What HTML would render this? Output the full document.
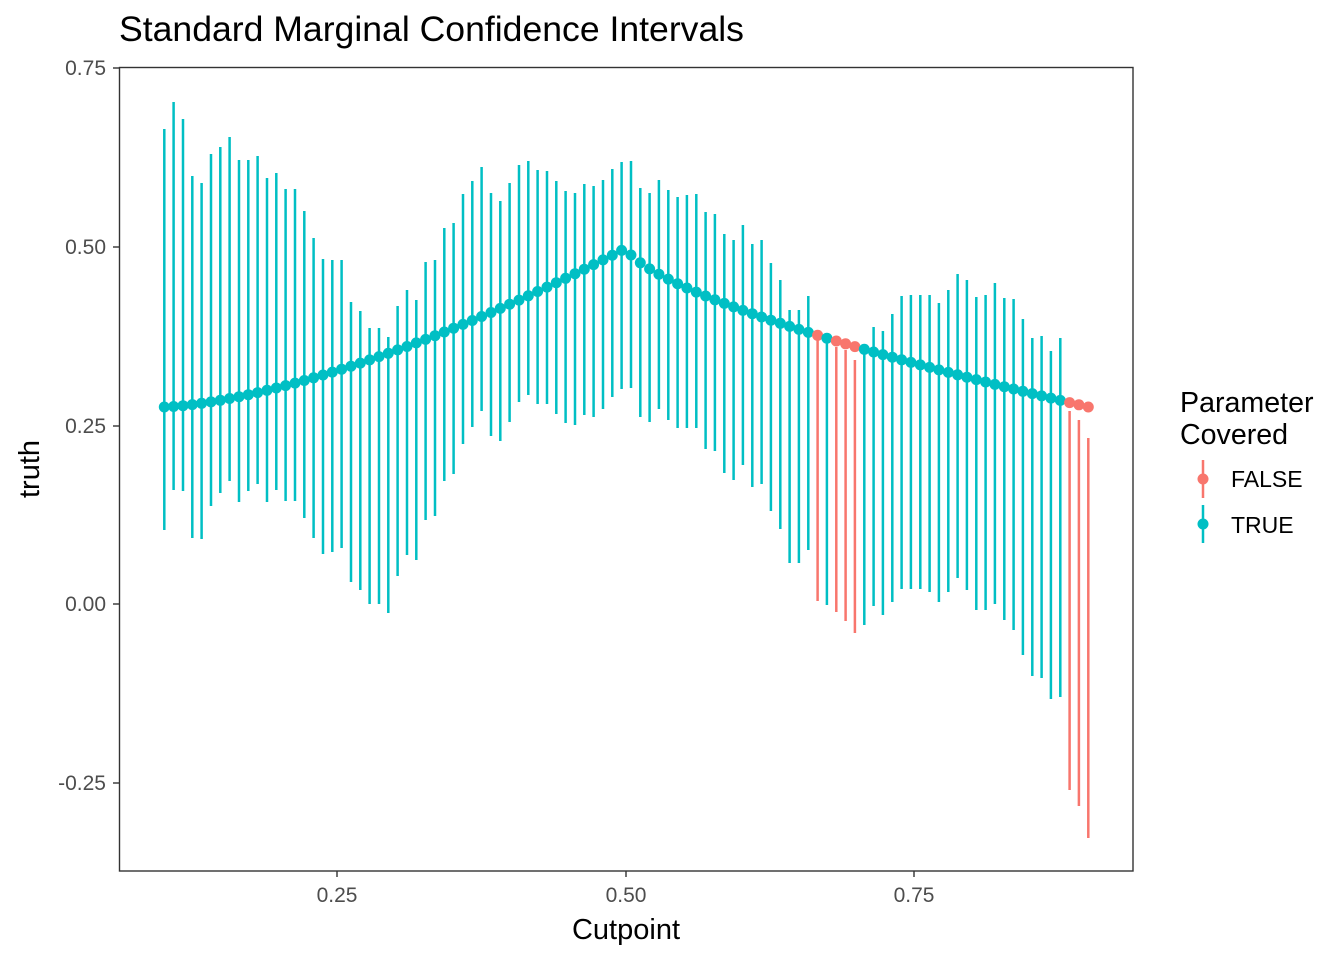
<!DOCTYPE html>
<html><head><meta charset="utf-8"><style>
html,body{margin:0;padding:0;background:#fff;}
svg{display:block;font-family:"Liberation Sans",sans-serif;}
</style></head><body>
<svg id="s" width="1344" height="960" viewBox="0 0 1344 960" xmlns="http://www.w3.org/2000/svg">
<rect width="1344" height="960" fill="#fff"/>
<text x="119" y="41" font-size="35.6" fill="#000">Standard Marginal Confidence Intervals</text>
<g id="data"></g>
<rect x="119.5" y="67.5" width="1013.5" height="803.5" fill="none" stroke="#333" stroke-width="1.4"/>
<g stroke="#333" stroke-width="1.4">
<line x1="113" x2="119" y1="68" y2="68"/><line x1="113" x2="119" y1="247" y2="247"/><line x1="113" x2="119" y1="426" y2="426"/><line x1="113" x2="119" y1="604" y2="604"/><line x1="113" x2="119" y1="783" y2="783"/>
<line x1="337" x2="337" y1="871" y2="877"/><line x1="626" x2="626" y1="871" y2="877"/><line x1="914" x2="914" y1="871" y2="877"/>
</g>
<g font-size="21" fill="#4d4d4d" text-anchor="end">
<text x="106" y="75">0.75</text><text x="106" y="254">0.50</text><text x="106" y="433">0.25</text><text x="106" y="611">0.00</text><text x="106" y="790">-0.25</text>
</g>
<g font-size="21" fill="#4d4d4d" text-anchor="middle">
<text x="337" y="902">0.25</text><text x="626" y="902">0.50</text><text x="914" y="902">0.75</text>
</g>
<text x="626" y="939" font-size="29" text-anchor="middle">Cutpoint</text>
<text transform="translate(39,469) rotate(-90)" font-size="29" text-anchor="middle">truth</text>
<text x="1180" y="412" font-size="28.6">Parameter</text>
<text x="1180" y="444" font-size="28.6">Covered</text>
<line x1="1203" x2="1203" y1="460" y2="498" stroke="#F8766D" stroke-width="2.5"/>
<circle cx="1203" cy="479" r="5.5" fill="#F8766D"/>
<line x1="1203" x2="1203" y1="505" y2="543" stroke="#00BFC4" stroke-width="2.5"/>
<circle cx="1203" cy="524" r="5.5" fill="#00BFC4"/>
<text x="1231" y="487" font-size="23" fill="#000">FALSE</text>
<text x="1231" y="533" font-size="23" fill="#000">TRUE</text>
</svg>
<script>
var tops=[129,102,119,176,183,154,147,137,160,160,156,178,173,189,189,211,238,259,260,260,302,311,328,328,337,306,290,300,262,260,228,223,194,181,
167,193,201,183,165,161,170,171,181,191,193,184,186,180,169,162,161,188,193,180,190,197,195,194,212,214,234,240,225,244,240,263,280,310,310,296,
340,337,347,350,360,349,327,331,314,296,295,295,295,303,290,274,280,297,295,283,298,299,319,338,336,351,338,411,420,438];
var bots=[530,490,491,538,539,506,493,481,502,491,484,502,490,501,501,518,538,554,552,548,582,590,604,604,613,576,555,560,520,516,481,474,444,427,
411,436,441,422,402,395,404,404,414,423,425,415,417,409,397,389,388,417,422,409,420,428,428,428,449,451,473,480,465,487,484,511,529,563,563,550,
601,605,612,621,633,625,606,615,602,589,589,589,592,602,592,578,590,610,610,604,620,630,655,676,678,699,697,790,806,838];
var red={70:1,72:1,73:1,74:1,97:1,98:1,99:1};
var g=document.getElementById('data'),h='',c='';
for(var i=0;i<100;i++){
 var x=164.3+9.333*i, y;
 if(i<49.5){var s=i/49.5; y=407-159*Math.pow(s,1.5);}
 else{var t=(i-49.5)/49.5; y=248+159*Math.pow(t,0.68);}
 var col=red[i]?'#F8766D':'#00BFC4';
 h+='<line x1="'+x.toFixed(1)+'" x2="'+x.toFixed(1)+'" y1="'+tops[i]+'" y2="'+bots[i]+'" stroke="'+col+'" stroke-width="2.5"/>';
 c+='<circle cx="'+x.toFixed(1)+'" cy="'+y.toFixed(1)+'" r="5.5" fill="'+col+'"/>';
}
g.innerHTML=h+c;
</script>
</body></html>
